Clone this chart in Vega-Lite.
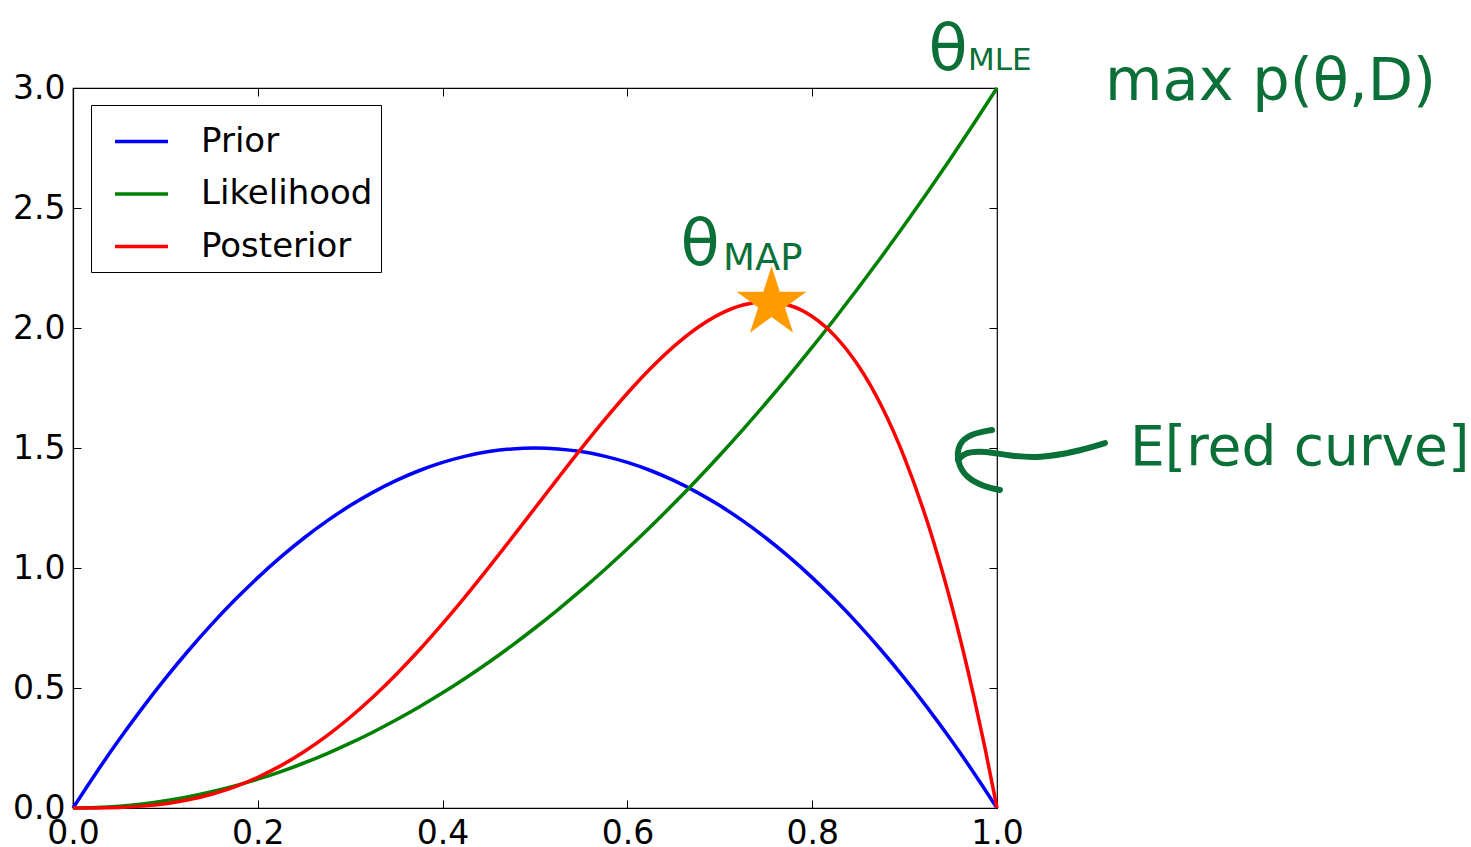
{
  "$schema": "https://vega.github.io/schema/vega-lite/v6.json",
  "width": 924,
  "height": 720,
  "autosize": {"type": "none"},
  "padding": {"left": 73, "top": 88, "right": 474, "bottom": 39},
  "background": "white",
  "config": {
    "font": "DejaVu Sans",
    "view": {"stroke": "black", "strokeWidth": 1.2},
    "axis": {
      "grid": false,
      "domainColor": "black",
      "domainWidth": 1.2,
      "tickColor": "black",
      "tickWidth": 1,
      "tickSize": -8,
      "labelColor": "black",
      "labelFont": "DejaVu Sans",
      "labelFontSize": 33,
      "title": null
    }
  },
  "datasets": {
    "curves": [
      {"x": 0, "y": 0, "series": "Prior"},
      {"x": 0.025, "y": 0.14625, "series": "Prior"},
      {"x": 0.05, "y": 0.285, "series": "Prior"},
      {"x": 0.075, "y": 0.41625, "series": "Prior"},
      {"x": 0.1, "y": 0.54, "series": "Prior"},
      {"x": 0.125, "y": 0.65625, "series": "Prior"},
      {"x": 0.15, "y": 0.765, "series": "Prior"},
      {"x": 0.175, "y": 0.86625, "series": "Prior"},
      {"x": 0.2, "y": 0.96, "series": "Prior"},
      {"x": 0.225, "y": 1.04625, "series": "Prior"},
      {"x": 0.25, "y": 1.125, "series": "Prior"},
      {"x": 0.275, "y": 1.19625, "series": "Prior"},
      {"x": 0.3, "y": 1.26, "series": "Prior"},
      {"x": 0.325, "y": 1.31625, "series": "Prior"},
      {"x": 0.35, "y": 1.365, "series": "Prior"},
      {"x": 0.375, "y": 1.40625, "series": "Prior"},
      {"x": 0.4, "y": 1.44, "series": "Prior"},
      {"x": 0.425, "y": 1.46625, "series": "Prior"},
      {"x": 0.45, "y": 1.485, "series": "Prior"},
      {"x": 0.475, "y": 1.49625, "series": "Prior"},
      {"x": 0.5, "y": 1.5, "series": "Prior"},
      {"x": 0.525, "y": 1.49625, "series": "Prior"},
      {"x": 0.55, "y": 1.485, "series": "Prior"},
      {"x": 0.575, "y": 1.46625, "series": "Prior"},
      {"x": 0.6, "y": 1.44, "series": "Prior"},
      {"x": 0.625, "y": 1.40625, "series": "Prior"},
      {"x": 0.65, "y": 1.365, "series": "Prior"},
      {"x": 0.675, "y": 1.31625, "series": "Prior"},
      {"x": 0.7, "y": 1.26, "series": "Prior"},
      {"x": 0.725, "y": 1.19625, "series": "Prior"},
      {"x": 0.75, "y": 1.125, "series": "Prior"},
      {"x": 0.775, "y": 1.04625, "series": "Prior"},
      {"x": 0.8, "y": 0.96, "series": "Prior"},
      {"x": 0.825, "y": 0.86625, "series": "Prior"},
      {"x": 0.85, "y": 0.765, "series": "Prior"},
      {"x": 0.875, "y": 0.65625, "series": "Prior"},
      {"x": 0.9, "y": 0.54, "series": "Prior"},
      {"x": 0.925, "y": 0.41625, "series": "Prior"},
      {"x": 0.95, "y": 0.285, "series": "Prior"},
      {"x": 0.975, "y": 0.14625, "series": "Prior"},
      {"x": 1, "y": 0, "series": "Prior"},
      {"x": 0, "y": 0, "series": "Likelihood"},
      {"x": 0.025, "y": 0.001875, "series": "Likelihood"},
      {"x": 0.05, "y": 0.0075, "series": "Likelihood"},
      {"x": 0.075, "y": 0.016875, "series": "Likelihood"},
      {"x": 0.1, "y": 0.03, "series": "Likelihood"},
      {"x": 0.125, "y": 0.046875, "series": "Likelihood"},
      {"x": 0.15, "y": 0.0675, "series": "Likelihood"},
      {"x": 0.175, "y": 0.091875, "series": "Likelihood"},
      {"x": 0.2, "y": 0.12, "series": "Likelihood"},
      {"x": 0.225, "y": 0.151875, "series": "Likelihood"},
      {"x": 0.25, "y": 0.1875, "series": "Likelihood"},
      {"x": 0.275, "y": 0.226875, "series": "Likelihood"},
      {"x": 0.3, "y": 0.27, "series": "Likelihood"},
      {"x": 0.325, "y": 0.316875, "series": "Likelihood"},
      {"x": 0.35, "y": 0.3675, "series": "Likelihood"},
      {"x": 0.375, "y": 0.421875, "series": "Likelihood"},
      {"x": 0.4, "y": 0.48, "series": "Likelihood"},
      {"x": 0.425, "y": 0.541875, "series": "Likelihood"},
      {"x": 0.45, "y": 0.6075, "series": "Likelihood"},
      {"x": 0.475, "y": 0.676875, "series": "Likelihood"},
      {"x": 0.5, "y": 0.75, "series": "Likelihood"},
      {"x": 0.525, "y": 0.826875, "series": "Likelihood"},
      {"x": 0.55, "y": 0.9075, "series": "Likelihood"},
      {"x": 0.575, "y": 0.991875, "series": "Likelihood"},
      {"x": 0.6, "y": 1.08, "series": "Likelihood"},
      {"x": 0.625, "y": 1.171875, "series": "Likelihood"},
      {"x": 0.65, "y": 1.2675, "series": "Likelihood"},
      {"x": 0.675, "y": 1.366875, "series": "Likelihood"},
      {"x": 0.7, "y": 1.47, "series": "Likelihood"},
      {"x": 0.725, "y": 1.576875, "series": "Likelihood"},
      {"x": 0.75, "y": 1.6875, "series": "Likelihood"},
      {"x": 0.775, "y": 1.801875, "series": "Likelihood"},
      {"x": 0.8, "y": 1.92, "series": "Likelihood"},
      {"x": 0.825, "y": 2.041875, "series": "Likelihood"},
      {"x": 0.85, "y": 2.1675, "series": "Likelihood"},
      {"x": 0.875, "y": 2.296875, "series": "Likelihood"},
      {"x": 0.9, "y": 2.43, "series": "Likelihood"},
      {"x": 0.925, "y": 2.566875, "series": "Likelihood"},
      {"x": 0.95, "y": 2.7075, "series": "Likelihood"},
      {"x": 0.975, "y": 2.851875, "series": "Likelihood"},
      {"x": 1, "y": 3, "series": "Likelihood"},
      {"x": 0, "y": 0, "series": "Posterior"},
      {"x": 0.025, "y": 0.000305, "series": "Posterior"},
      {"x": 0.05, "y": 0.002375, "series": "Posterior"},
      {"x": 0.075, "y": 0.007805, "series": "Posterior"},
      {"x": 0.1, "y": 0.018, "series": "Posterior"},
      {"x": 0.125, "y": 0.03418, "series": "Posterior"},
      {"x": 0.15, "y": 0.057375, "series": "Posterior"},
      {"x": 0.175, "y": 0.08843, "series": "Posterior"},
      {"x": 0.2, "y": 0.128, "series": "Posterior"},
      {"x": 0.225, "y": 0.176555, "series": "Posterior"},
      {"x": 0.25, "y": 0.234375, "series": "Posterior"},
      {"x": 0.275, "y": 0.301555, "series": "Posterior"},
      {"x": 0.3, "y": 0.378, "series": "Posterior"},
      {"x": 0.325, "y": 0.46343, "series": "Posterior"},
      {"x": 0.35, "y": 0.557375, "series": "Posterior"},
      {"x": 0.375, "y": 0.65918, "series": "Posterior"},
      {"x": 0.4, "y": 0.768, "series": "Posterior"},
      {"x": 0.425, "y": 0.882805, "series": "Posterior"},
      {"x": 0.45, "y": 1.002375, "series": "Posterior"},
      {"x": 0.475, "y": 1.125305, "series": "Posterior"},
      {"x": 0.5, "y": 1.25, "series": "Posterior"},
      {"x": 0.525, "y": 1.37468, "series": "Posterior"},
      {"x": 0.55, "y": 1.497375, "series": "Posterior"},
      {"x": 0.575, "y": 1.61593, "series": "Posterior"},
      {"x": 0.6, "y": 1.728, "series": "Posterior"},
      {"x": 0.625, "y": 1.831055, "series": "Posterior"},
      {"x": 0.65, "y": 1.922375, "series": "Posterior"},
      {"x": 0.675, "y": 1.999055, "series": "Posterior"},
      {"x": 0.7, "y": 2.058, "series": "Posterior"},
      {"x": 0.725, "y": 2.09593, "series": "Posterior"},
      {"x": 0.75, "y": 2.109375, "series": "Posterior"},
      {"x": 0.775, "y": 2.09468, "series": "Posterior"},
      {"x": 0.8, "y": 2.048, "series": "Posterior"},
      {"x": 0.825, "y": 1.965305, "series": "Posterior"},
      {"x": 0.85, "y": 1.842375, "series": "Posterior"},
      {"x": 0.875, "y": 1.674805, "series": "Posterior"},
      {"x": 0.9, "y": 1.458, "series": "Posterior"},
      {"x": 0.925, "y": 1.18718, "series": "Posterior"},
      {"x": 0.9375, "y": 1.02997, "series": "Posterior"},
      {"x": 0.95, "y": 0.857375, "series": "Posterior"},
      {"x": 0.9625, "y": 0.668749, "series": "Posterior"},
      {"x": 0.975, "y": 0.46343, "series": "Posterior"},
      {"x": 0.9875, "y": 0.240742, "series": "Posterior"},
      {"x": 1, "y": 0, "series": "Posterior"}
    ],
    "squiggle": [
      {"x": 1.1169, "y": 1.5208, "part": "line", "i": 0},
      {"x": 1.0844, "y": 1.4833, "part": "line", "i": 1},
      {"x": 1.0465, "y": 1.4583, "part": "line", "i": 2},
      {"x": 1.0141, "y": 1.4667, "part": "line", "i": 3},
      {"x": 0.987, "y": 1.4875, "part": "line", "i": 4},
      {"x": 0.9654, "y": 1.4833, "part": "line", "i": 5},
      {"x": 0.9578, "y": 1.45, "part": "line", "i": 6},
      {"x": 0.9946, "y": 1.575, "part": "hook", "i": 0},
      {"x": 0.9708, "y": 1.5583, "part": "hook", "i": 1},
      {"x": 0.9578, "y": 1.5167, "part": "hook", "i": 2},
      {"x": 0.9567, "y": 1.4417, "part": "hook", "i": 3},
      {"x": 0.9665, "y": 1.375, "part": "hook", "i": 4},
      {"x": 0.987, "y": 1.3375, "part": "hook", "i": 5},
      {"x": 1.0032, "y": 1.325, "part": "hook", "i": 6}
    ]
  },
  "layer": [
    {
      "data": {"name": "curves"},
      "mark": {"type": "line", "strokeWidth": 3.5, "interpolate": "monotone"},
      "encoding": {
        "x": {
          "field": "x", "type": "quantitative",
          "scale": {"domain": [0, 1], "nice": false, "zero": false},
          "axis": {"orient": "bottom", "values": [0, 0.2, 0.4, 0.6, 0.8, 1.0], "format": ".1f", "labelPadding": 17, "labelFlush": false, "labelOverlap": false}
        },
        "y": {
          "field": "y", "type": "quantitative",
          "scale": {"domain": [0, 3], "nice": false},
          "axis": {"orient": "left", "values": [0, 0.5, 1, 1.5, 2, 2.5, 3], "format": ".1f", "labelPadding": 16, "labelFlush": false, "labelOverlap": false}
        },
        "color": {
          "field": "series", "type": "nominal",
          "scale": {"domain": ["Prior", "Likelihood", "Posterior"], "range": ["#0000ff", "#008000", "#ff0000"]},
          "legend": {
            "title": null, "orient": "none", "legendX": 18, "legendY": 17,
            "strokeColor": "black", "fillColor": "white", "padding": 8,
            "symbolType": "stroke", "symbolSize": 2809, "symbolStrokeWidth": 3.5,
            "symbolOffset": 14, "labelOffset": 31, "rowPadding": 6.5, "labelLimit": 400,
            "labelFontSize": 34, "labelFont": "DejaVu Sans", "labelColor": "black"
          }
        }
      }
    },
    {
      "data": {"values": [{"x": 0, "y": 0}]},
      "mark": {"type": "point", "opacity": 0},
      "encoding": {
        "x": {"field": "x", "type": "quantitative", "axis": {"orient": "top", "values": [0, 0.2, 0.4, 0.6, 0.8, 1.0], "labels": false, "domain": false}},
        "y": {"field": "y", "type": "quantitative", "axis": {"orient": "right", "values": [0, 0.5, 1, 1.5, 2, 2.5, 3], "labels": false, "domain": false}}
      }
    },
    {
      "data": {"values": [{"x": 0.756, "y": 2.104}]},
      "mark": {"type": "point", "shape": "M0,-1L0.2245,-0.309L0.9511,-0.309L0.3633,0.118L0.5878,0.809L0,0.382L-0.5878,0.809L-0.3633,0.118L-0.9511,-0.309L-0.2245,-0.309Z", "filled": true, "color": "#ff9a00", "opacity": 1, "size": 5400},
      "encoding": {
        "x": {"field": "x", "type": "quantitative", "axis": null},
        "y": {"field": "y", "type": "quantitative", "axis": null}
      }
    },
    {
      "data": {"name": "squiggle"},
      "mark": {"type": "line", "color": "#0a7038", "strokeWidth": 6, "strokeCap": "round", "strokeJoin": "round", "interpolate": "basis"},
      "encoding": {
        "x": {"field": "x", "type": "quantitative", "axis": null},
        "y": {"field": "y", "type": "quantitative", "axis": null},
        "detail": {"field": "part", "type": "nominal"},
        "order": {"field": "i", "type": "quantitative"}
      }
    },
    {
      "data": {"values": [{"label": "θ", "x": 0.6786, "y": 2.2625}, {"label": "θ", "x": 0.947, "y": 3.075}]},
      "mark": {"type": "text", "fontSize": 64, "color": "#0a7038", "align": "center", "baseline": "alphabetic"},
      "encoding": {
        "x": {"field": "x", "type": "quantitative", "axis": null},
        "y": {"field": "y", "type": "quantitative", "axis": null},
        "text": {"field": "label"}
      }
    },
    {
      "data": {"values": [{"label": "MLE", "x": 0.9686, "y": 3.075}]},
      "mark": {"type": "text", "fontSize": 31, "color": "#0a7038", "align": "left", "baseline": "alphabetic"},
      "encoding": {
        "x": {"field": "x", "type": "quantitative", "axis": null},
        "y": {"field": "y", "type": "quantitative", "axis": null},
        "text": {"field": "label"}
      }
    },
    {
      "data": {"values": [{"label": "MAP", "x": 0.7035, "y": 2.2417}]},
      "mark": {"type": "text", "fontSize": 37, "color": "#0a7038", "align": "left", "baseline": "alphabetic"},
      "encoding": {
        "x": {"field": "x", "type": "quantitative", "axis": null},
        "y": {"field": "y", "type": "quantitative", "axis": null},
        "text": {"field": "label"}
      }
    },
    {
      "data": {"values": [{"label": "max p(θ,D)", "x": 1.1169, "y": 2.95}]},
      "mark": {"type": "text", "fontSize": 59, "color": "#0a7038", "align": "left", "baseline": "alphabetic"},
      "encoding": {
        "x": {"field": "x", "type": "quantitative", "axis": null},
        "y": {"field": "y", "type": "quantitative", "axis": null},
        "text": {"field": "label"}
      }
    },
    {
      "data": {"values": [{"label": "E[red curve]", "x": 1.1439, "y": 1.5}]},
      "mark": {"type": "text", "fontSize": 55, "color": "#0a7038", "align": "left", "baseline": "middle"},
      "encoding": {
        "x": {"field": "x", "type": "quantitative", "axis": null},
        "y": {"field": "y", "type": "quantitative", "axis": null},
        "text": {"field": "label"}
      }
    }
  ],
  "resolve": {"axis": {"x": "independent", "y": "independent"}}
}
